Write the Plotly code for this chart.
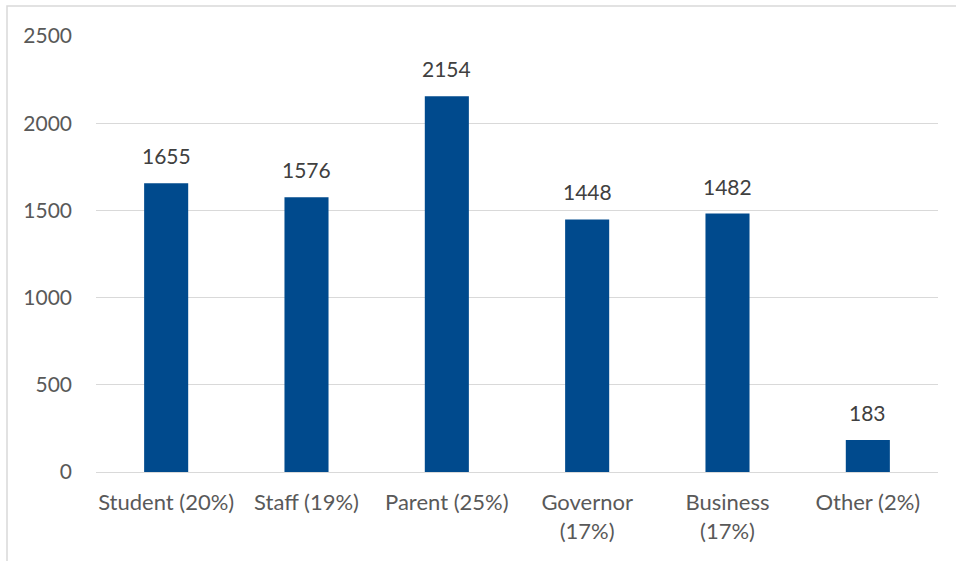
import plotly.graph_objects as go

categories = ["Student (20%)", "Staff (19%)", "Parent (25%)", "Governor<br>(17%)", "Business<br>(17%)", "Other (2%)"]
values = [1655, 1576, 2154, 1448, 1482, 183]
y_ticks = [0, 500, 1000, 1500, 2000, 2500]

FONT = "Lato, Open Sans, sans-serif"

fig = go.Figure(go.Bar(
    x=categories, y=values,
    marker=dict(color="#004A8D", line=dict(width=0)),
    hoverinfo="x+y",
))

for c, v in zip(categories, values):
    fig.add_annotation(x=c, y=v, text=str(v), showarrow=False,
                       yanchor="bottom", yshift=13,
                       font=dict(family=FONT, size=21, color="#404040"))

L, R, T, B = 96, 18, 36, 89
W, H = 956, 561
pw, ph = W - L - R, H - T - B

fig.update_layout(
    width=W, height=H,
    margin=dict(l=L, r=R, t=T, b=B),
    paper_bgcolor="white", plot_bgcolor="white",
    bargap=0.686,
    showlegend=False,
    font=dict(family=FONT, size=21, color="#595959"),
    xaxis=dict(showgrid=False, showline=True, linecolor="#d9d9d9", linewidth=1,
               ticks="", ticklabelstandoff=11, tickfont=dict(size=22, color="#595959")),
    yaxis=dict(range=[0, 2500], tickvals=y_ticks, showgrid=True, gridcolor="#d9d9d9",
               gridwidth=1, zeroline=False, showline=False, ticks="",
               ticklabelstandoff=23,
               tickfont=dict(size=21, color="#595959")),
    shapes=[dict(type="rect", xref="paper", yref="paper",
                 x0=(7 - L) / pw, x1=1.2, y0=-0.5, y1=1 + (T - 6) / ph,
                 line=dict(color="#d9d9d9", width=1.5), fillcolor="rgba(0,0,0,0)", layer="below")],
)

fig.write_html("out.html", config={"displayModeBar": False},
               post_script="document.body.style.margin='0';document.body.style.overflow='hidden';")
